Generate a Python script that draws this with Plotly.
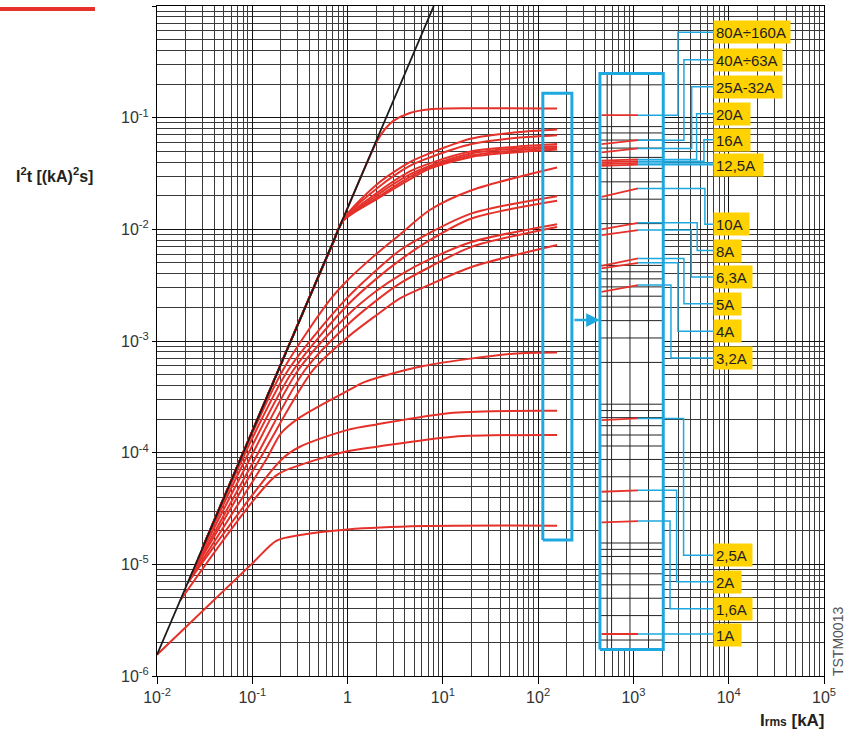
import math
import plotly.graph_objects as go

# ---------------- data ----------------
# prospective current I (kA) vs let-through energy I2t ((kA)^2 s)
PROSPECTIVE_I = [0.01, 8.03]
PROSPECTIVE_E = [1.55e-6, 1.0]

I_80_160A = [0.03, 0.3, 1.0, 1.6, 2.02, 2.5, 3.0, 4.5, 7.3, 20, 158]
E_80_160A = [1.4e-5, 1.4e-3, 0.0155, 0.0395, 0.061, 0.08, 0.093, 0.11, 0.119, 0.1215, 0.121]

I_BUNDLE = [0.03, 0.3, 0.7, 0.9, 2.0, 4.5, 7.3, 20, 60, 158]
E_40_63A = [1.4e-5, 1.4e-3, 7.5e-3, 0.0123, 0.025, 0.040, 0.048, 0.065, 0.074, 0.0783]
E_25_32A = [1.4e-5, 1.4e-3, 7.5e-3, 0.0122, 0.023, 0.037, 0.044, 0.058, 0.066, 0.0697]
E_20A = [1.4e-5, 1.4e-3, 7.5e-3, 0.0121, 0.021, 0.033, 0.039, 0.050, 0.055, 0.058]
E_16A = [1.4e-5, 1.4e-3, 7.5e-3, 0.0120, 0.020, 0.031, 0.037, 0.048, 0.053, 0.0556]
E_12_5A = [1.4e-5, 1.4e-3, 7.5e-3, 0.0120, 0.019, 0.0295, 0.036, 0.046, 0.051, 0.0537]
E_12_5A_B = [1.4e-5, 1.4e-3, 7.5e-3, 0.0119, 0.0185, 0.028, 0.035, 0.0445, 0.049, 0.0518]

I_10A = [0.03, 0.0733, 0.21, 0.65, 1.0, 2.0, 3.55, 7.3, 20, 158]
E_10A = [1.4e-5, 8.3e-5, 5.5e-4, 2.32e-3, 3.5e-3, 6.0e-3, 9.0e-3, 0.0149, 0.0224, 0.0358]
I_8A = [0.03, 0.078, 0.238, 0.94, 2.0, 3.55, 7.3, 20, 158]
E_8A = [1.4e-5, 8.6e-5, 5.5e-4, 2.32e-3, 4.3e-3, 6.5e-3, 9.3e-3, 0.0139, 0.0198]
I_6_3A = [0.027, 0.084, 0.27, 1.0, 2.0, 3.55, 7.3, 20, 158]
E_6_3A = [1.13e-5, 8.6e-5, 5.5e-4, 2.1e-3, 3.6e-3, 5.3e-3, 8.0e-3, 0.0125, 0.018]
I_5A = [0.025, 0.093, 0.304, 1.0, 2.0, 3.55, 7.3, 20, 158]
E_5A = [9.7e-6, 8.6e-5, 5.5e-4, 1.7e-3, 2.8e-3, 3.89e-3, 5.4e-3, 7.7e-3, 0.0111]
I_4A = [0.023, 0.105, 0.357, 1.0, 2.0, 3.55, 7.3, 20, 158]
E_4A = [8.2e-6, 8.6e-5, 5.5e-4, 1.4e-3, 2.3e-3, 3.28e-3, 4.6e-3, 6.97e-3, 0.0105]
I_3_2A = [0.022, 0.118, 0.435, 1.0, 2.0, 3.55, 7.3, 20, 158]
E_3_2A = [7.5e-6, 8.6e-5, 5.5e-4, 1.08e-3, 1.7e-3, 2.41e-3, 3.2e-3, 4.6e-3, 7.23e-3]
I_2_5A = [0.021, 0.139, 0.2, 0.316, 1.03, 1.52, 6.2, 54.8, 158]
E_2_5A = [6.8e-6, 8.6e-5, 1.49e-4, 2.07e-4, 3.63e-4, 4.3e-4, 5.96e-4, 7.7e-4, 7.9e-4]
I_2A = [0.021, 0.203, 0.316, 1.0, 2.02, 12.9, 158]
E_2A = [6.8e-6, 8.7e-5, 1.13e-4, 1.6e-4, 1.79e-4, 2.28e-4, 2.37e-4]
I_1_6A = [0.0174, 0.176, 0.316, 1.0, 2.02, 12.9, 158]
E_1_6A = [4.7e-6, 6.2e-5, 7.74e-5, 1.03e-4, 1.13e-4, 1.39e-4, 1.44e-4]
I_1A = [0.01, 0.1, 0.18, 0.32, 1.0, 6.2, 158]
E_1A = [1.55e-6, 1.02e-5, 1.63e-5, 1.83e-5, 2.05e-5, 2.2e-5, 2.22e-5]

# magnified detail (right-hand box): segment start / end values
DETAIL_I = [463, 1122]
DETAIL_START = [0.1053, 0.0579, 0.0488, 0.0412, 0.0397, 0.0384, 0.0370, 0.01954, 0.00998,
                0.00887, 0.00471, 0.00447, 0.002757, 1.958e-4, 4.467e-5, 2.377e-5, 2.377e-6]
DETAIL_END = [0.1053, 0.0629, 0.0530, 0.0423, 0.0408, 0.0393, 0.0379, 0.02324, 0.01143,
              0.00984, 0.00549, 0.00501, 0.003165, 2.028e-4, 4.597e-5, 2.441e-5, 2.377e-6]

LABELS = ["80A÷160A", "40A÷63A", "25A-32A", "20A", "16A", "12,5A", "10A", "8A", "6,3A",
          "5A", "4A", "3,2A", "2,5A", "2A", "1,6A", "1A"]

X_TICKVALS = [1e-2, 1e-1, 1, 1e1, 1e2, 1e3, 1e4, 1e5]
X_TICKTEXT = ["10<sup>-2</sup>", "10<sup>-1</sup>", "1", "10<sup>1</sup>", "10<sup>2</sup>",
              "10<sup>3</sup>", "10<sup>4</sup>", "10<sup>5</sup>"]
Y_TICKVALS = [1e-6, 1e-5, 1e-4, 1e-3, 1e-2, 1e-1, 1]
Y_TICKTEXT = ["10<sup>-6</sup>", "10<sup>-5</sup>", "10<sup>-4</sup>", "10<sup>-3</sup>",
              "10<sup>-2</sup>", "10<sup>-1</sup>", "1"]

# ---------------- layout helpers (positions / styles) ----------------
RED = "#E5312A"
BLUE = "#1FA8E0"
YELLOW = "#FFD200"
FONT = "Liberation Sans, Arial, sans-serif"

LEFT_BOX_I = [112, 226]
LEFT_BOX_E = [1.65e-5, 0.1655]
RIGHT_BOX_I = [445, 2056]
RIGHT_BOX_E = [1.73e-6, 0.249]
MAG_SLOPE, MAG_OFFSET = 1.243, 0.163          # log-scale magnification used in the detail box
INNER_GRID_I = [530, 590, 920, 1440]

LABEL_LEFT_I = 6823
LABEL_Y = [0.5825, 0.3305, 0.1895, 0.1086, 0.06355, 0.03733, 0.01109, 0.006448, 0.003733,
           0.002153, 0.001221, 7.058e-4, 1.204e-5, 6.985e-6, 4.003e-6, 2.352e-6]
LABEL_W = [76, 68, 68, 36, 36, 49, 35, 27, 38, 27, 27, 38, 38, 27, 38, 27]
CONNECT_VIA_I = [2931, 3388, 4083, 4603, 5495, None, None, 5626, 4670, 4045, 3388, 2931, 2476,
                 3360, 2840, 2421, None]
CONNECT_LABEL = [0, 1, 2, 3, 4, 5, 5, 6, 7, 8, 9, 10, 11, 12, 13, 14, 15]

curves = [
    (I_80_160A, E_80_160A), (I_BUNDLE, E_40_63A), (I_BUNDLE, E_25_32A), (I_BUNDLE, E_20A),
    (I_BUNDLE, E_16A), (I_BUNDLE, E_12_5A), (I_BUNDLE, E_12_5A_B), (I_10A, E_10A), (I_8A, E_8A),
    (I_6_3A, E_6_3A), (I_5A, E_5A), (I_4A, E_4A), (I_3_2A, E_3_2A), (I_2_5A, E_2_5A),
    (I_2A, E_2A), (I_1_6A, E_1_6A), (I_1A, E_1A),
]

fig = go.Figure()

# white background of the detail box (hides the main grid)
fig.add_trace(go.Scatter(
    x=[RIGHT_BOX_I[0], RIGHT_BOX_I[1], RIGHT_BOX_I[1], RIGHT_BOX_I[0], RIGHT_BOX_I[0]],
    y=[RIGHT_BOX_E[0], RIGHT_BOX_E[0], RIGHT_BOX_E[1], RIGHT_BOX_E[1], RIGHT_BOX_E[0]],
    fill="toself", fillcolor="white", line=dict(width=0), mode="lines", hoverinfo="skip"))

# magnified grid inside detail box
gx, gy = [], []
for e in range(-7, 1):
    for m in range(1, 10):
        g = m * 10.0 ** e
        v = 10 ** (MAG_SLOPE * math.log10(g) + MAG_OFFSET)
        if RIGHT_BOX_E[0] < v < RIGHT_BOX_E[1]:
            gx += [RIGHT_BOX_I[0], RIGHT_BOX_I[1], None]
            gy += [v, v, None]
for xv in INNER_GRID_I:
    gx += [xv, xv, None]
    gy += [RIGHT_BOX_E[0], RIGHT_BOX_E[1], None]
fig.add_trace(go.Scatter(x=gx, y=gy, mode="lines", line=dict(color="#222", width=1),
                         hoverinfo="skip"))

# red characteristic curves
for xs, ys in curves:
    fig.add_trace(go.Scatter(x=xs, y=ys, mode="lines",
                             line=dict(color=RED, width=2, shape="spline", smoothing=0.8)))

# prospective (black) line
fig.add_trace(go.Scatter(x=PROSPECTIVE_I, y=PROSPECTIVE_E, mode="lines",
                         line=dict(color="#1a1a1a", width=1.8)))

# detail segments
for s, e in zip(DETAIL_START, DETAIL_END):
    fig.add_trace(go.Scatter(x=DETAIL_I, y=[s, e], mode="lines", line=dict(color=RED, width=1.8)))

# connectors
for k, e in enumerate(DETAIL_END):
    li = CONNECT_LABEL[k]
    via = CONNECT_VIA_I[k]
    if via is None:
        xs = [DETAIL_I[1], LABEL_LEFT_I * 1.2]
        ys = [e, e]
    else:
        xs = [DETAIL_I[1], via, via, LABEL_LEFT_I * 1.05]
        ys = [e, e, LABEL_Y[li], LABEL_Y[li]]
    fig.add_trace(go.Scatter(x=xs, y=ys, mode="lines", line=dict(color=BLUE, width=1.5)))

# boxes
for bi, be in ((LEFT_BOX_I, LEFT_BOX_E), (RIGHT_BOX_I, RIGHT_BOX_E)):
    fig.add_trace(go.Scatter(x=[bi[0], bi[1], bi[1], bi[0], bi[0]],
                             y=[be[0], be[0], be[1], be[1], be[0]],
                             mode="lines", line=dict(color=BLUE, width=3)))

ann = []
for lab, yv, w in zip(LABELS, LABEL_Y, LABEL_W):
    ann.append(dict(x=math.log10(LABEL_LEFT_I), y=math.log10(yv), xref="x", yref="y",
                    text=lab, showarrow=False, xanchor="left", yanchor="middle",
                    bgcolor=YELLOW, borderpad=2, width=w - 4, height=18, align="left",
                    font=dict(family=FONT, size=15, color="#231F20")))
# arrow between boxes
ann.append(dict(x=math.log10(RIGHT_BOX_I[0]), y=math.log10(1.54e-3), xref="x", yref="y",
                ax=-27, ay=0, text="", showarrow=True, arrowhead=2, arrowsize=1.1,
                arrowwidth=2.5, arrowcolor=BLUE, standoff=0))
# axis titles
ann.append(dict(x=-0.2144, y=0.7485, xref="paper", yref="paper", xanchor="left",
                yanchor="middle", showarrow=False,
                text="<b>I<sup>2</sup>t [(kA)<sup>2</sup>s]</b>",
                font=dict(family=FONT, size=16, color="#231F20")))
ann.append(dict(x=1.0045, y=-0.067, xref="paper", yref="paper", xanchor="right",
                yanchor="middle", showarrow=False,
                text="<b>I<span style='font-size:12px'>rms</span> [kA]</b>",
                font=dict(family=FONT, size=17, color="#231F20")))
ann.append(dict(x=1.021, y=0.0507, xref="paper", yref="paper", xanchor="center",
                yanchor="middle", showarrow=False, textangle=-90, text="TSTM0013",
                font=dict(family=FONT, size=14, color="#555")))

x_minor = [m * 10.0 ** e for e in range(-2, 5) for m in range(2, 10)]
y_minor = [m * 10.0 ** e for e in range(-6, 0) for m in range(2, 10)]

fig.update_layout(
    width=846, height=737, margin=dict(l=157, r=22, t=6, b=61),
    paper_bgcolor="white", plot_bgcolor="white", showlegend=False,
    annotations=ann,
    shapes=[dict(type="rect", xref="paper", yref="paper", x0=-0.2354, x1=-0.093,
                 y0=0.9925, y1=0.9985, fillcolor=RED, line=dict(width=0))],
)
axis_common = dict(type="log", ticks="outside", tickcolor="#000", showline=True,
                   linecolor="#000", linewidth=1, mirror=True, showgrid=True,
                   gridcolor="#111", gridwidth=1, zeroline=False,
                   tickfont=dict(family=FONT, size=16, color="#333"))
fig.update_xaxes(range=[-2, 5], tickvals=X_TICKVALS, ticktext=X_TICKTEXT, ticklen=7,
                 minor=dict(tickvals=x_minor, showgrid=True, gridcolor="#3a3a3a", gridwidth=1,
                            ticks=""), **axis_common)
fig.update_yaxes(range=[-6, 0], tickvals=Y_TICKVALS, ticktext=Y_TICKTEXT, ticklen=4,
                 minor=dict(tickvals=y_minor, showgrid=True, gridcolor="#3a3a3a", gridwidth=1,
                            ticks=""), **axis_common)

fig.write_html("out.html", config={"displayModeBar": False},
               post_script="document.body.style.margin='0px';")
